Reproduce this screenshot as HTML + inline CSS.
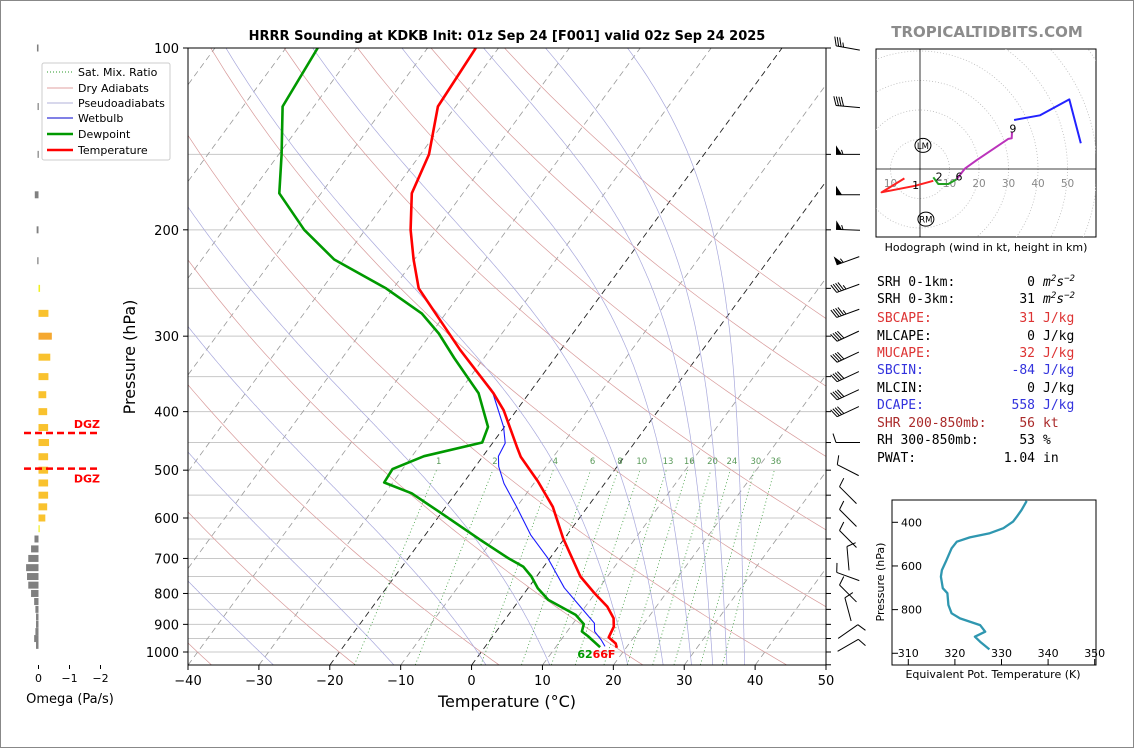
<!DOCTYPE html>
<html><head><meta charset="utf-8"><title>HRRR Sounding KDKB</title>
<style>
html,body{margin:0;padding:0;background:#fff;}
svg{display:block;font-family:"DejaVu Sans","Liberation Sans",sans-serif;}
.mono{font-family:"DejaVu Sans Mono","Liberation Mono",monospace;font-size:13px;}
</style></head>
<body>
<svg id="chart" width="1134" height="748" viewBox="0 0 1134 748" xmlns="http://www.w3.org/2000/svg">
<rect x="0.5" y="0.5" width="1133" height="747" fill="#fff" stroke="#888"/>
<defs><clipPath id="mainclip"><rect x="188" y="48" width="638" height="617"/></clipPath>
<clipPath id="hodoclip"><rect x="876" y="49" width="220" height="188"/></clipPath>
<clipPath id="thclip"><rect x="892" y="500" width="204" height="165"/></clipPath></defs>
<g id="bg" clip-path="url(#mainclip)"></g>
<g id="traces" clip-path="url(#mainclip)"></g>
<g id="axes"></g>
<g id="barbs"></g>
<g id="omega"></g>
<g id="hodo"></g>
<g id="theta"></g>
<text x="507" y="40" text-anchor="middle" font-size="13" font-weight="bold">HRRR Sounding at KDKB Init: 01z Sep 24 [F001] valid 02z Sep 24 2025</text>
<text x="987" y="37" text-anchor="middle" font-size="15" font-weight="bold" fill="#8c8c8c">TROPICALTIDBITS.COM</text>
<text x="507" y="707" text-anchor="middle" font-size="16">Temperature (°C)</text>
<text transform="translate(135,357) rotate(-90)" text-anchor="middle" font-size="16">Pressure (hPa)</text>
<g>
<rect x="42" y="63" width="128" height="97" fill="#fff" stroke="#ccc" rx="2"/>
<line x1="47" y1="72" x2="73" y2="72" stroke="#2a9a2a" stroke-dasharray="1,2" stroke-width="1"/><text x="78" y="76" font-size="11">Sat. Mix. Ratio</text>
<line x1="47" y1="88" x2="73" y2="88" stroke="#e0a0a0" stroke-width="1"/><text x="78" y="92" font-size="11">Dry Adiabats</text>
<line x1="47" y1="103" x2="73" y2="103" stroke="#b0b0d8" stroke-width="1"/><text x="78" y="107" font-size="11">Pseudoadiabats</text>
<line x1="47" y1="118" x2="73" y2="118" stroke="#0000cc" stroke-width="1"/><text x="78" y="122" font-size="11">Wetbulb</text>
<line x1="47" y1="134" x2="73" y2="134" stroke="#009900" stroke-width="2.5"/><text x="78" y="138" font-size="11">Dewpoint</text>
<line x1="47" y1="150" x2="73" y2="150" stroke="#ff0000" stroke-width="2.5"/><text x="78" y="154" font-size="11">Temperature</text>
</g>
<g class="mono">
<text x="877" y="286">SRH 0-1km:</text><text x="1035" y="286" text-anchor="end">0</text><text x="1043" y="286" font-style="italic">m<tspan font-size="9" dy="-5">2</tspan><tspan dy="5">s</tspan><tspan font-size="9" dy="-5">−2</tspan></text>
<text x="877" y="303">SRH 0-3km:</text><text x="1035" y="303" text-anchor="end">31</text><text x="1043" y="303" font-style="italic">m<tspan font-size="9" dy="-5">2</tspan><tspan dy="5">s</tspan><tspan font-size="9" dy="-5">−2</tspan></text>
<text x="877" y="322" fill="#dd3333">SBCAPE:</text><text x="1035" y="322" text-anchor="end" fill="#dd3333">31</text><text x="1043" y="322" fill="#dd3333">J/kg</text>
<text x="877" y="340">MLCAPE:</text><text x="1035" y="340" text-anchor="end">0</text><text x="1043" y="340">J/kg</text>
<text x="877" y="357" fill="#dd3333">MUCAPE:</text><text x="1035" y="357" text-anchor="end" fill="#dd3333">32</text><text x="1043" y="357" fill="#dd3333">J/kg</text>
<text x="877" y="374" fill="#3333dd">SBCIN:</text><text x="1035" y="374" text-anchor="end" fill="#3333dd">-84</text><text x="1043" y="374" fill="#3333dd">J/kg</text>
<text x="877" y="392">MLCIN:</text><text x="1035" y="392" text-anchor="end">0</text><text x="1043" y="392">J/kg</text>
<text x="877" y="409" fill="#3333dd">DCAPE:</text><text x="1035" y="409" text-anchor="end" fill="#3333dd">558</text><text x="1043" y="409" fill="#3333dd">J/kg</text>
<text x="877" y="427" fill="#aa2a2a">SHR 200-850mb:</text><text x="1035" y="427" text-anchor="end" fill="#aa2a2a">56</text><text x="1043" y="427" fill="#aa2a2a">kt</text>
<text x="877" y="444">RH 300-850mb:</text><text x="1035" y="444" text-anchor="end">53</text><text x="1043" y="444">%</text>
<text x="877" y="462">PWAT:</text><text x="1035" y="462" text-anchor="end">1.04</text><text x="1043" y="462">in</text>
</g>
</svg>
<script>
// ---- main sounding data (pressure hPa, values °C) ----
const tempP = [100,125,150,174,200,224,250,316,373,398,457,475,522,575,648,750,799,841,879,908,946,968,984];
const tempT = [-63.2,-62.5,-58.8,-57.2,-53.6,-50.1,-46.4,-34.2,-25.0,-21.8,-16.2,-14.6,-9.6,-4.9,-0.2,6.2,9.9,13.1,15.2,16.1,16.5,18.1,18.7];
const dewP = [100,125,150,174,200,224,250,275,297,326,373,424,450,474,498,524,546,589,653,700,722,750,784,820,868,899,925,941,982];
const dewT = [-85.5,-84.4,-79.6,-75.9,-68.6,-61.3,-51.0,-43.4,-38.9,-34.2,-27.1,-22.3,-21.5,-28.3,-31.4,-31.2,-26.2,-20.0,-11.6,-5.8,-2.9,-0.7,1.4,4.1,9.5,11.6,12.1,13.4,16.3];
const wbP = [100,125,150,174,200,224,250,316,368,424,451,474,493,526,575,640,699,783,841,896,925,955,979];
const wbT = [-63.2,-62.5,-58.8,-57.2,-53.6,-50.1,-46.4,-34.2,-25.6,-20.1,-18.2,-17.8,-16.7,-14.2,-10.0,-5.1,-0.3,5.1,9.3,13.0,13.9,15.7,16.9];
const pressureTicks = [100,200,300,400,500,600,700,800,900,1000];
const gridPressures = [100,150,200,250,300,350,400,450,500,550,600,650,700,750,800,850,900,950,1000];
const tempTicks = [-40,-30,-20,-10,0,10,20,30,40,50];
const mixRatios = [1,2,4,6,8,10,13,16,20,24,30,36];
const moistStartT = [-28,-11,2,11,22,27,31,34,36,38.5];
const dryStartT = [-120,-100,-80,-60,-40,-20,0,20,40,60,80,100,120,140];
const sfcLabels = ["62","66F"];
// wind barbs
const barbP = [100,125,150,175,200,225,250,275,300,325,350,375,400,450,500,550,600,650,700,750,800,850,925,975];
const barbDir = [280,275,270,270,272,250,250,250,245,245,245,245,245,270,297,315,315,315,355,290,315,345,55,60];
const barbSpd = [35,40,55,50,55,55,45,45,40,40,40,40,40,10,10,10,10,10,10,10,10,10,10,10];
// omega
const omegaP = [100,125,150,175,200,225,250,275,300,325,350,375,400,425,450,475,500,525,550,575,600,625,650,675,700,725,750,775,800,825,850,875,900,925,950,975];
const omegaV = [0.05,0.03,0.03,0.12,0.06,0.04,-0.05,-0.32,-0.43,-0.38,-0.32,-0.25,-0.28,-0.31,-0.34,-0.31,-0.31,-0.31,-0.31,-0.28,-0.22,-0.02,0.13,0.24,0.33,0.40,0.37,0.33,0.24,0.14,0.10,0.08,0.08,0.10,0.14,0.08];
const omegaTicks = [0,-1,-2];
const dgzP = [434,497];
// hodograph (kt)
const hodoRedU = [-5.3,-13,-1.7,4.5];
const hodoRedV = [-3.2,-7.9,-5.7,-4];
const hodoGreenU = [4.5,6.2,9.6,12.4];
const hodoGreenV = [-2.8,-5.1,-5.1,-3.5];
const hodoMagU = [12.4,15.3,19.2,29.9,31.1,31.2];
const hodoMagV = [-3.5,0.2,3,10.2,10.4,12.6];
const hodoBlueU = [31.9,40.7,50.6,54.5];
const hodoBlueV = [16.6,18.2,23.6,8.7];
const hodoRings = [10,20,30,40,50,60,70,80];
const hodoTickLabels = ["10","10","20","30","40","50"];
const hodoTickVals = [-10,10,20,30,40,50];
const hodoHeights = ["1","2","6","9"];
const hodoHeightU = [-1.5,6.5,13.2,31.5];
const hodoHeightV = [-5.5,-2.5,-2.5,13.8];
const stormLM = [1,8];
const stormRM = [2,-17];
// theta-e
const thP = [302,344,374,397,427,450,469,489,519,573,619,649,702,725,779,817,840,871,901,924,947,982];
const thK = [335.4,334.3,333.3,332.5,330.4,327.5,323.2,320.4,319.3,318.2,317.2,317,317.4,318.4,318.6,319.3,321.1,325.4,326.5,324.3,325.4,327.4];
const thXTicks = [310,320,330,340,350];
const thYTicks = [400,600,800,1000];

const NS="http://www.w3.org/2000/svg";
function el(tag,parent){const e=document.createElementNS(NS,tag);parent.appendChild(e);return e;}
function set(e,o){for(const k in o)e.setAttribute(k,o[k]);return e;}
const PX=7.089, SKEW=0.733;
function Y(p){return 48+604*(Math.log10(p)-2);}
function X(t,p){return 188+(t+40)*PX+SKEW*(665-Y(p));}
const bg=document.getElementById('bg'),tr=document.getElementById('traces'),ax=document.getElementById('axes');

gridPressures.forEach(p=>{const l=el('line',bg);set(l,{x1:188,x2:826,y1:Y(p),y2:Y(p),stroke:'#c8c8c8','stroke-width':1});

});
for(let t=-150;t<=50;t+=10){const l=el('line',bg);const blk=(t===0||t===-20);
set(l,{x1:X(t,1050),y1:665,x2:X(t,100),y2:48,stroke:blk?'#222':'#999','stroke-width':blk?0.9:0.8,'stroke-dasharray':'6,4'});

}
dryStartT.forEach(t0=>{const th=t0+273.15;let d='';for(let p=1060;p>=95;p-=10){const t=th*Math.pow(p/1000,0.2857)-273.15;d+=(d?'L':'M')+X(t,p).toFixed(1)+','+Y(p).toFixed(1);}
const pa=el('path',bg);set(pa,{d:d,fill:'none',stroke:'#d89a9a','stroke-width':0.7});

});
function es(t){return 6.112*Math.exp(17.67*t/(t+243.5));}
moistStartT.forEach(t0=>{let t=t0,d='';for(let p=1050;p>=100;p-=2){d+=(d?'L':'M')+X(t,p).toFixed(1)+','+Y(p).toFixed(1);
const e=es(t),rs=0.622*e/(p-e),Tk=t+273.15;const dTdp=(287*Tk+2.5e6*rs)/(1004+2.5e6*2.5e6*rs*0.622/(287*Tk*Tk))/p;t-=dTdp*2;}
const pa=el('path',bg);set(pa,{d:d,fill:'none',stroke:'#a8a8dc','stroke-width':0.7});

});
function tdFromW(w,p){const e=w*p/(622+w);const g=Math.log(e/6.112);return 243.5*g/(17.67-g);}
mixRatios.forEach(w=>{const l=el('line',bg);set(l,{x1:X(tdFromW(w,1050),1050),y1:Y(1050),x2:X(tdFromW(w,500),500),y2:Y(500),stroke:'#3a9a3a','stroke-width':0.8,'stroke-dasharray':'1,2.5'});


const tx=el('text',bg);set(tx,{x:X(tdFromW(w,490),490),y:Y(490)-1,'font-size':8.5,fill:'#5a9a5a','text-anchor':'middle'});tx.textContent=w;

});
function trace(P,T,color,w,name){let d='';P.forEach((p,i)=>{d+=(i?'L':'M')+X(T[i],p).toFixed(1)+','+Y(p).toFixed(1);});
const pa=el('path',tr);set(pa,{d:d,fill:'none',stroke:color,'stroke-width':w,'stroke-linejoin':'round'});

}
trace(wbP,wbT,'#1a1aff',1.1,'wetbulb-line');
trace(dewP,dewT,'#009900',2.6,'dewpoint-line');
trace(tempP,tempT,'#ff0000',2.6,'temperature-line');
{const t1=el('text',tr);set(t1,{x:X(dewT[dewT.length-1],1000)-4,y:658,'font-size':11,'font-weight':'bold',fill:'#009900','text-anchor':'end'});t1.textContent=sfcLabels[0];


const t2=el('text',tr);set(t2,{x:X(dewT[dewT.length-1],1000)-4,y:658,'font-size':11,'font-weight':'bold',fill:'#ff0000'});t2.textContent=sfcLabels[1];

}
{const r=el('rect',ax);set(r,{x:188,y:48,width:638,height:617,fill:'none',stroke:'#000','stroke-width':1});

}
gridPressures.concat([1050]).forEach(p=>{const l=el('line',ax);set(l,{x1:826,x2:831,y1:Y(p),y2:Y(p),stroke:'#000'});

});
pressureTicks.forEach(p=>{const l=el('line',ax);set(l,{x1:183,x2:188,y1:Y(p),y2:Y(p),stroke:'#000'});


const t=el('text',ax);set(t,{x:179,y:Y(p)+5,'text-anchor':'end','font-size':13});t.textContent=p;

});
tempTicks.forEach(v=>{const x=188+(v+40)*PX;const l=el('line',ax);set(l,{x1:x,x2:x,y1:665,y2:670,stroke:'#000'});


const t=el('text',ax);set(t,{x:x,y:685,'text-anchor':'middle','font-size':13});t.textContent=(v<0?'\u2212'+(-v):v);

});
// wind barbs (pivot at middle of staff)
const bb=document.getElementById('barbs');
barbP.forEach((p,i)=>{const a=(barbDir[i])*Math.PI/180;
const ux=Math.sin(a),uy=-Math.cos(a);
const L=24;const cx=848,cy=Y(p);const bx=cx-ux*L/2,by=cy-uy*L/2;const tx=cx+ux*L/2,ty=cy+uy*L/2;const g=el('g',bb);


const st=el('line',g);set(st,{x1:bx,y1:by,x2:tx,y2:ty,stroke:'#000','stroke-width':1});
let s=barbSpd[i];let pos=0;const px=-uy,py=ux;
while(s>=50){const x0=tx-ux*pos,y0=ty-uy*pos;const x1=tx-ux*(pos+6),y1=ty-uy*(pos+6);
const pg=el('polygon',g);set(pg,{points:`${x0},${y0} ${x0+px*9},${y0+py*9} ${x1},${y1}`,fill:'#000'});pos+=7;s-=50;}
while(s>=10){const x0=tx-ux*pos,y0=ty-uy*pos;const l=el('line',g);set(l,{x1:x0,y1:y0,x2:x0+px*9+ux*3,y2:y0+py*9+uy*3,stroke:'#000','stroke-width':1});pos+=2.5;s-=10;}
if(s>=5){if(pos===0)pos=3;const x0=tx-ux*pos,y0=ty-uy*pos;const l=el('line',g);set(l,{x1:x0,y1:y0,x2:x0+px*4.5+ux*1.5,y2:y0+py*4.5+uy*1.5,stroke:'#000','stroke-width':1});}
});
// omega panel
const om=document.getElementById('omega');const O0=38.5,OS=31;
omegaP.forEach((p,i)=>{const v=omegaV[i];const w=Math.abs(v)*OS;const x=v>0?O0-w:O0;
const col=v>0?'#808080':(Math.abs(v)>0.4?'#f5a830':(Math.abs(v)<0.06?'#f0f020':'#f9c22e'));
const r=el('rect',om);set(r,{x:x,y:Y(p)-3.5,width:Math.max(w,1.2),height:7,fill:col});

});
omegaTicks.forEach(v=>{const x=O0-v*OS;const l=el('line',om);set(l,{x1:x,x2:x,y1:665,y2:669,stroke:'#000'});


const t=el('text',om);set(t,{x:x,y:682,'text-anchor':'middle','font-size':11});t.textContent=(v<0?'\u2212'+(-v):v);

});
{const t=el('text',om);set(t,{x:70,y:703,'text-anchor':'middle','font-size':13});t.textContent='Omega (Pa/s)';

}
dgzP.forEach((p,i)=>{const l=el('line',om);set(l,{x1:24,x2:99,y1:Y(p),y2:Y(p),stroke:'#ff0000','stroke-width':2.5,'stroke-dasharray':'7,4'});


const t=el('text',om);set(t,{x:100,y:i===0?Y(p)-5:Y(p)+14,'text-anchor':'end','font-size':11,'font-weight':'bold',fill:'#ff0000'});t.textContent='DGZ';

});
// hodograph
const ho=document.getElementById('hodo');const HX=920,HY=169,HS=2.95;
function hx(u){return HX+u*HS;}function hy(v){return HY-v*HS;}
{const r=el('rect',ho);set(r,{x:876,y:49,width:220,height:188,fill:'#fff',stroke:'#000'});

}
const hg=el('g',ho);hg.setAttribute('clip-path','url(#hodoclip)');
hodoRings.forEach(r=>{const c=el('circle',hg);set(c,{cx:HX,cy:HY,r:r*HS,fill:'none',stroke:'#bbb','stroke-width':0.8,'stroke-dasharray':'1,2'});

});
{const l1=el('line',hg);set(l1,{x1:876,x2:1096,y1:HY,y2:HY,stroke:'#000','stroke-width':0.8});


const l2=el('line',hg);set(l2,{x1:HX,x2:HX,y1:49,y2:237,stroke:'#000','stroke-width':0.8});

}
hodoTickVals.forEach((v,i)=>{const t=el('text',hg);set(t,{x:hx(v),y:HY+18,'text-anchor':'middle','font-size':10.5,fill:'#888'});t.textContent=hodoTickLabels[i];

});
function hline(U,V,col,name){let d='';U.forEach((u,i)=>{d+=(i?'L':'M')+hx(u).toFixed(1)+','+hy(V[i]).toFixed(1);});
const pa=el('path',hg);set(pa,{d:d,fill:'none',stroke:col,'stroke-width':2,'stroke-linejoin':'round'});

}
hline(hodoRedU,hodoRedV,'#ff2020','hodograph-0-1km');
hline(hodoGreenU,hodoGreenV,'#22a022','hodograph-1-3km');
hline(hodoMagU,hodoMagV,'#bb33bb','hodograph-3-9km');
hline(hodoBlueU,hodoBlueV,'#2222ff','hodograph-9km-plus');
hodoHeights.forEach((h,i)=>{const t=el('text',hg);set(t,{x:hx(hodoHeightU[i]),y:hy(hodoHeightV[i])+4,'text-anchor':'middle','font-size':11});t.textContent=h;

});
[[stormLM,'LM','storm-motion-left'],[stormRM,'RM','storm-motion-right']].forEach(s=>{const e=el('ellipse',hg);set(e,{cx:hx(s[0][0]),cy:hy(s[0][1]),rx:8,ry:7,fill:'none',stroke:'#000','stroke-width':1});


const t=el('text',hg);set(t,{x:hx(s[0][0]),y:hy(s[0][1])+3.5,'text-anchor':'middle','font-size':8.5});t.textContent=s[1];

});
{const t=el('text',ho);set(t,{x:986,y:251,'text-anchor':'middle','font-size':11});t.textContent='Hodograph (wind in kt, height in km)';

}
// theta-e panel
const th=document.getElementById('theta');
function tX(k){return 908.3+(k-310)*4.66;}function tY(p){return 522.3+(p-400)*0.2183;}
{const r=el('rect',th);set(r,{x:892,y:500,width:204,height:165,fill:'#fff',stroke:'#000'});

}
thXTicks.forEach(k=>{const l=el('line',th);set(l,{x1:tX(k),x2:tX(k),y1:659,y2:665,stroke:'#000'});


const t=el('text',th);set(t,{x:tX(k),y:657,'text-anchor':'middle','font-size':11});t.textContent=k;

});
thYTicks.forEach(p=>{const l=el('line',th);set(l,{x1:892,x2:898,y1:tY(p),y2:tY(p),stroke:'#000'});


if(p<1000){const t=el('text',th);set(t,{x:901,y:tY(p)+4,'font-size':11});t.textContent=p;

}});
{let d='';thP.forEach((p,i)=>{d+=(i?'L':'M')+tX(thK[i]).toFixed(1)+','+tY(p).toFixed(1);});
const g=el('g',th);g.setAttribute('clip-path','url(#thclip)');
const pa=el('path',g);set(pa,{d:d,fill:'none',stroke:'#2f97b0','stroke-width':2.3,'stroke-linejoin':'round'});


const t=el('text',th);set(t,{x:993,y:678,'text-anchor':'middle','font-size':11});t.textContent='Equivalent Pot. Temperature (K)';


const t2=el('text',th);set(t2,{transform:'translate(884,582) rotate(-90)','text-anchor':'middle','font-size':11});t2.textContent='Pressure (hPa)';

}
</script>
</body></html>
